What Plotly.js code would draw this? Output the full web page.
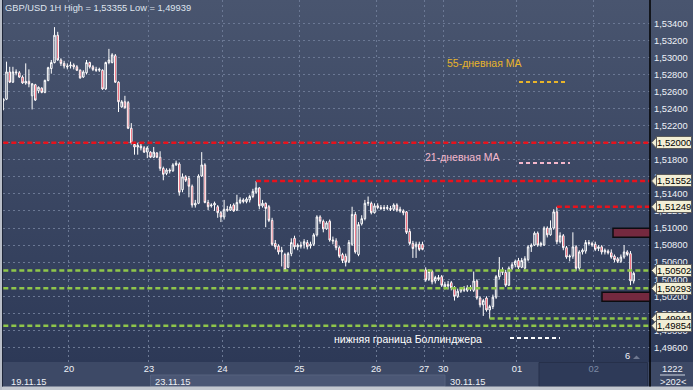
<!DOCTYPE html>
<html><head><meta charset="utf-8">
<script src="https://cdn.plot.ly/plotly-3.0.1.min.js"></script>
<style>
html,body{margin:0;padding:0;background:#3d4966;}
#chart{width:693px;height:390px;background:linear-gradient(to bottom,#49556f 0px,#2d3957 362px,#3d4966 362px,#3d4966 390px);}
</style></head><body><div id="chart"></div>
<script>
// ---- data (GBP/USD 1H candles) ----
const openP = [
1.5249,1.5251,1.5283,1.5271,1.5283,1.5282,1.5277,1.5270,1.5272,1.5255,
1.5268,1.5261,1.5264,1.5259,1.5273,1.5287,1.5294,1.5326,1.5297,1.5293,
1.5290,1.5290,1.5291,1.5289,1.5285,1.5277,1.5282,1.5294,1.5289,1.5286,
1.5285,1.5285,1.5263,1.5294,1.5294,1.5302,1.5271,1.5242,1.5248,1.5247,
1.5217,1.5198,1.5195,1.5196,1.5194,1.5189,1.5189,1.5183,1.5188,1.5183,
1.5170,1.5164,1.5168,1.5167,1.5174,1.5175,1.5145,1.5160,1.5158,1.5149,
1.5127,1.5129,1.5161,1.5174,1.5130,1.5126,1.5127,1.5125,1.5118,1.5113,
1.5122,1.5121,1.5127,1.5121,1.5130,1.5133,1.5131,1.5133,1.5137,1.5142,
1.5147,1.5126,1.5129,1.5125,1.5109,1.5082,1.5079,1.5072,1.5069,1.5054,
1.5070,1.5088,1.5078,1.5080,1.5081,1.5083,1.5079,1.5081,1.5092,1.5113,
1.5108,1.5099,1.5108,1.5086,1.5085,1.5077,1.5069,1.5067,1.5061,1.5081,
1.5116,1.5069,1.5105,1.5111,1.5129,1.5129,1.5118,1.5126,1.5124,1.5124,
1.5123,1.5123,1.5122,1.5127,1.5122,1.5120,1.5119,1.5096,1.5082,1.5078,
1.5081,1.5081,1.5051,1.5040,1.5049,1.5038,1.5042,1.5043,1.5031,1.5034,
1.5036,1.5030,1.5020,1.5026,1.5029,1.5027,1.5030,1.5027,1.5038,1.5018,
1.5010,1.5018,1.5004,1.5008,1.5019,1.5043,1.5051,1.5048,1.5033,1.5053,
1.5057,1.5062,1.5054,1.5053,1.5063,1.5078,1.5080,1.5094,1.5080,1.5080,
1.5100,1.5092,1.5100,1.5119,1.5084,1.5091,1.5077,1.5066,1.5067,1.5078,
1.5053,1.5072,1.5073,1.5083,1.5082,1.5081,1.5076,1.5078,1.5072,1.5073,
1.5071,1.5067,1.5064,1.5061,1.5066,1.5072,1.5070,1.5038];
const highP = [
1.5252,1.5295,1.5289,1.5289,1.5286,1.5284,1.5279,1.5293,1.5286,1.5270,
1.5269,1.5266,1.5265,1.5274,1.5289,1.5297,1.53355,1.5330,1.5299,1.5296,
1.5293,1.5295,1.5293,1.5291,1.5286,1.5285,1.5297,1.5295,1.5291,1.5289,
1.5288,1.5286,1.5295,1.5310,1.5305,1.5304,1.5272,1.5250,1.5255,1.5249,
1.5223,1.5201,1.5200,1.5199,1.5196,1.5196,1.5190,1.5195,1.5189,1.5190,
1.5172,1.5170,1.5170,1.5176,1.5179,1.5177,1.5164,1.5162,1.5161,1.5151,
1.5133,1.5163,1.5189,1.5176,1.5133,1.5129,1.5131,1.5127,1.5120,1.5133,
1.5126,1.5128,1.5129,1.5139,1.5136,1.5135,1.5136,1.5139,1.5146,1.51552,
1.5148,1.5133,1.5130,1.5127,1.5112,1.5086,1.5081,1.5078,1.5071,1.5072,
1.5088,1.5091,1.5082,1.5084,1.5087,1.5086,1.5084,1.5094,1.5115,1.5115,
1.5110,1.5108,1.5110,1.5090,1.5088,1.5079,1.5071,1.5070,1.5086,1.5125,
1.5119,1.5107,1.5115,1.5133,1.5137,1.5131,1.5129,1.5129,1.5127,1.5127,
1.5127,1.5126,1.5129,1.5129,1.5125,1.5122,1.5120,1.5099,1.5085,1.5084,
1.5084,1.5084,1.5054,1.5052,1.5051,1.5044,1.5045,1.5045,1.5037,1.5038,
1.5038,1.5032,1.5029,1.5031,1.5032,1.5033,1.5033,1.5049,1.5040,1.5020,
1.5017,1.5020,1.5010,1.5022,1.5045,1.5066,1.5054,1.5051,1.5055,1.5060,
1.5063,1.5065,1.5065,1.5067,1.5080,1.5082,1.5096,1.5096,1.5084,1.5102,
1.5102,1.5109,1.5122,1.51249,1.5095,1.5093,1.5079,1.5069,1.5095,1.5080,
1.5074,1.5076,1.5086,1.5086,1.5084,1.5084,1.5080,1.5080,1.5076,1.5075,
1.5075,1.5069,1.5066,1.5069,1.5080,1.5074,1.5073,1.5049];
const lowP = [
1.5238,1.5250,1.5270,1.5270,1.5279,1.5276,1.5269,1.5268,1.5265,1.5239,
1.5249,1.5258,1.5258,1.5258,1.5272,1.5281,1.5293,1.5296,1.5290,1.5287,
1.5286,1.5287,1.5286,1.5284,1.5275,1.5276,1.5280,1.5287,1.5284,1.5283,
1.5283,1.5262,1.5262,1.5292,1.5293,1.5270,1.5236,1.5241,1.5240,1.5216,
1.5198,1.5186,1.5186,1.5191,1.5188,1.5182,1.5182,1.5182,1.5182,1.5167,
1.5156,1.5162,1.5164,1.5166,1.5173,1.5138,1.5142,1.5154,1.5136,1.5124,
1.5124,1.5128,1.5160,1.5129,1.5121,1.5124,1.5120,1.5112,1.5107,1.5110,
1.5119,1.5120,1.5119,1.5120,1.5128,1.5129,1.5129,1.5130,1.5135,1.5140,
1.5122,1.5124,1.5101,1.5107,1.5079,1.5075,1.5069,1.5055,1.5049,1.5053,
1.5067,1.5075,1.5074,1.5076,1.5076,1.5075,1.5076,1.5079,1.5090,1.5105,
1.5095,1.5098,1.5084,1.5081,1.5074,1.5065,1.5059,1.5055,1.5059,1.5079,
1.5070,1.5067,1.5103,1.5109,1.5126,1.5116,1.5117,1.5122,1.5121,1.5120,
1.5121,1.5120,1.5120,1.5119,1.5118,1.5115,1.5093,1.5080,1.5065,1.5065,
1.5073,1.5074,1.5037,1.5038,1.5034,1.5035,1.5038,1.5031,1.5028,1.5028,
1.5027,1.5015,1.5018,1.5024,1.5025,1.5025,1.5026,1.5025,1.5016,1.5007,
1.4997,1.5002,1.49939,1.5005,1.5017,1.5040,1.5045,1.5031,1.5032,1.5051,
1.5054,1.5052,1.5053,1.5051,1.5061,1.5072,1.5079,1.5078,1.5078,1.5079,
1.5089,1.5091,1.5098,1.5081,1.5082,1.5074,1.5064,1.5061,1.5064,1.5050,
1.5050,1.5069,1.5070,1.5080,1.5078,1.5073,1.5073,1.5069,1.5069,1.5069,
1.5064,1.5060,1.5059,1.5059,1.5064,1.5067,1.5033,1.5035];
const closeP = [
1.5251,1.5283,1.5271,1.5283,1.5282,1.5277,1.5270,1.5272,1.5269,1.5269,
1.5250,1.5265,1.5259,1.5273,1.5288,1.5294,1.5326,1.5297,1.5293,1.5290,
1.5289,1.5291,1.5289,1.5285,1.5276,1.5283,1.5294,1.5289,1.5286,1.5285,
1.5286,1.5263,1.5294,1.5297,1.5303,1.5271,1.5248,1.5248,1.5241,1.5217,
1.5200,1.5195,1.5197,1.5194,1.5189,1.5194,1.5183,1.5189,1.5183,1.5170,
1.5163,1.5168,1.5167,1.5174,1.5176,1.5142,1.5160,1.5156,1.5149,1.5127,
1.5129,1.5161,1.5174,1.5130,1.5125,1.5127,1.5129,1.5118,1.5113,1.5122,
1.5121,1.5125,1.5120,1.5130,1.5133,1.5131,1.5134,1.5137,1.5143,1.5147,
1.5126,1.5129,1.5123,1.5109,1.5081,1.5078,1.5072,1.5074,1.5051,1.5070,
1.5083,1.5078,1.5080,1.5079,1.5084,1.5078,1.5081,1.5092,1.5113,1.5108,
1.5099,1.5106,1.5086,1.5085,1.5077,1.5067,1.5062,1.5060,1.5083,1.5116,
1.5072,1.5104,1.5111,1.5129,1.5130,1.5118,1.5126,1.5124,1.5123,1.5123,
1.5124,1.5122,1.5127,1.5121,1.5120,1.5118,1.5095,1.5082,1.5076,1.5081,
1.5075,1.5075,1.5039,1.5049,1.5037,1.5042,1.5040,1.5033,1.5034,1.5032,
1.5030,1.5020,1.5026,1.5029,1.5027,1.5030,1.5029,1.5038,1.5018,1.5010,
1.5015,1.5004,1.5008,1.5019,1.5043,1.5051,1.5048,1.5033,1.5053,1.5057,
1.5061,1.5054,1.5062,1.5064,1.5078,1.5080,1.5094,1.5080,1.5082,1.5100,
1.5092,1.5100,1.5119,1.5084,1.5091,1.5077,1.5066,1.5067,1.5078,1.5053,
1.5072,1.5074,1.5083,1.5082,1.5080,1.5075,1.5078,1.5072,1.5074,1.5071,
1.5066,1.5063,1.5061,1.5066,1.5072,1.5069,1.5038,1.5047];

const dayLabels   = ['20','23','24','25','26','27','30','01','02'];
const dayFirstBar = [21, 46, 69, 93, 117, 132, 138, 161, 185];
const dateLabels  = ['19.11.15','23.11.15','30.11.15'];
const levels       = [1.52000, 1.51552, 1.51249, 1.50502, 1.50293, 1.49941, 1.49854];
const levelFromBar = [0, 79, 173, 0, 0, 152, 0];
const levelKind    = ['res','res','res','sup','sup','sup','sup'];
const zoneTop    = [1.50998, 1.50247];
const zoneBottom = [1.50892, 1.50142];
const yTicks = [1.496,1.498,1.500,1.502,1.504,1.506,1.508,1.510,1.512,1.514,1.516,1.518,1.520,1.522,1.524,1.526,1.528,1.530,1.532,1.534];
const titleText = 'GBP/USD 1H High = 1,53355 Low = 1,49939';
const legendTexts = ['55-дневная MA','21-дневная MA','нижняя граница Боллинджера'];
const barCountText = ['1222','>202<'];
const markerText = '6';

// ---- helpers: pixel -> paper ----
const W = 693, H = 390, L = 3, R = 650, T = 0, B = 362;
const px = x => (x - L) / (R - L);
const py = y => (B - y) / (B - T);
const XMAX = 202.1;
const fmt = v => v.toFixed(5).replace('.', ',');
const FONT = 'Liberation Sans, Arial, sans-serif';

const bars = openP.map((_, i) => i);
const traces = [{
  type: 'candlestick', x: bars, open: openP, high: highP, low: lowP, close: closeP,
  increasing: {line: {color: '#ffffff', width: 1}, fillcolor: 'rgba(0,0,0,0)'},
  decreasing: {line: {color: '#ffffff', width: 1}, fillcolor: '#e8102a'},
  whiskerwidth: 0, hoverinfo: 'skip', showlegend: false
}];
levels.forEach((lv, k) => {
  traces.push({
    type: 'scatter', mode: 'lines', x: [levelFromBar[k], XMAX], y: [lv, lv],
    line: {color: levelKind[k] === 'res' ? '#e8121c' : '#8fc64a', width: 2.5, dash: '5px,3px'},
    hoverinfo: 'skip', showlegend: false
  });
});

const shapes = [];
const annotations = [];
const P = (x0, y0, x1, y1, fill, line, layer) => shapes.push({type: 'rect', xref: 'paper', yref: 'paper',
  x0: px(x0), x1: px(x1), y0: py(y0), y1: py(y1), fillcolor: fill,
  line: {width: line ? 1 : 0, color: line || 'rgba(0,0,0,0)'}, layer: layer || 'below'});

// bottom band pieces
P(150.5, 375, 445, 386.5, '#4b5775', '#56627f');
P(539, 362.5, 647.5, 386.5, '#2e3a58', '#26304a');
P(0, 386.5, 693, 390, '#c3c8d0');
P(0, 0, 2, 390, '#b9bec8');
P(2, 0, 3, 386.5, '#1e2639');
// separator line plot | axis
shapes.push({type: 'line', xref: 'paper', yref: 'paper', x0: px(650), x1: px(650), y0: py(0), y1: py(386.5),
  line: {color: '#000000', width: 1.5}, layer: 'above'});
// bars count separator
shapes.push({type: 'line', xref: 'paper', yref: 'paper', x0: px(660), x1: px(685), y0: py(375), y1: py(375),
  line: {color: '#cfd5e0', width: 1}, layer: 'above'});

// maroon zones
zoneTop.forEach((t, k) => {
  shapes.push({type: 'rect', xref: 'paper', yref: 'y', x0: px(k === 0 ? 613 : 602), x1: px(650), y0: zoneBottom[k], y1: t,
    fillcolor: '#74293f', line: {color: '#0c0c10', width: 1.5}, layer: 'above'});
});

// legend-like text + dashes
const legendPos = [[484, 63, '#e8b42a', 519, 567, 82], [462, 157, '#f4b8cc', 519, 570, 163], [408, 339, '#ffffff', 510, 560, 338]];
legendTexts.forEach((t, k) => {
  const p = legendPos[k];
  annotations.push({xref: 'paper', yref: 'paper', x: px(p[0]), y: py(p[1]), xanchor: 'center', yanchor: 'middle',
    text: t, showarrow: false, font: {family: FONT, size: 10.5, color: p[2]}});
  shapes.push({type: 'line', xref: 'paper', yref: 'paper', x0: px(p[3]), x1: px(p[4]), y0: py(p[5]), y1: py(p[5]),
    line: {color: p[2], width: 2, dash: '4px,3px'}, layer: 'above'});
});

// price tags on right axis
levels.forEach((lv, k) => {
  const dy = 5.5 * 0.0001172;
  shapes.push({type: 'path', xref: 'paper', yref: 'y',
    path: `M ${px(651.5)},${lv} L ${px(656.5)},${lv + dy} L ${px(656.5)},${lv - dy} Z`,
    fillcolor: '#f2eed5', line: {color: '#5a5a5a', width: 1}, layer: 'above'});
  annotations.push({xref: 'paper', yref: 'y', x: px(655.5), y: lv, xanchor: 'left', yanchor: 'middle',
    text: fmt(lv), showarrow: false, font: {family: FONT, size: 9.5, color: '#000000'},
    bgcolor: '#f2eed5', bordercolor: '#5a5a5a', borderwidth: 1, borderpad: 0});
});

// title
annotations.push({xref: 'paper', yref: 'paper', x: px(3), y: py(8), xanchor: 'left', yanchor: 'middle',
  text: titleText, showarrow: false, font: {family: FONT, size: 9.3, color: '#dfe4ee'}});
// date row
const datePos = [10, 154, 449];
dateLabels.forEach((t, k) => annotations.push({xref: 'paper', yref: 'paper', x: px(datePos[k] - 1), y: py(381.5),
  xanchor: 'left', yanchor: 'middle', text: t, showarrow: false, font: {family: FONT, size: 9.3, color: '#eef1f7'}}));
// bars count
annotations.push({xref: 'paper', yref: 'paper', x: px(672.5), y: py(369), xanchor: 'center', yanchor: 'middle',
  text: barCountText[0], showarrow: false, font: {family: FONT, size: 9.3, color: '#eef1f7'}});
annotations.push({xref: 'paper', yref: 'paper', x: px(672.5), y: py(382), xanchor: 'center', yanchor: 'middle',
  text: barCountText[1], showarrow: false, font: {family: FONT, size: 9.3, color: '#eef1f7'}});
// marker
annotations.push({xref: 'paper', yref: 'paper', x: px(627.5), y: py(355.5), xanchor: 'center', yanchor: 'middle',
  text: markerText, showarrow: false, font: {family: FONT, size: 9.3, color: '#eef1f7'}});
shapes.push({type: 'path', xref: 'paper', yref: 'paper',
  path: `M ${px(633)},${py(359)} L ${px(640)},${py(359)} L ${px(636.5)},${py(355.5)} Z`,
  fillcolor: '#6f7890', line: {width: 0}, layer: 'above'});

const tickText = dayLabels.map((d, k) => k === dayLabels.length - 1 ? `<span style="color:#7d8aa5">${d}</span>` : d);

const layout = {
  width: W, height: H,
  margin: {l: L, r: W - R, t: T, b: H - B, pad: 0},
  paper_bgcolor: 'rgba(0,0,0,0)', plot_bgcolor: 'rgba(0,0,0,0)',
  separators: ', ', showlegend: false, boxgap: 0.32, dragmode: false,
  font: {family: FONT, size: 9.3, color: '#eef1f7'},
  xaxis: {type: 'linear', range: [-0.1, XMAX], tickvals: dayFirstBar.map(b => b - 0.5), ticktext: tickText,
    showgrid: true, gridcolor: '#6b7894', griddash: '2px,3px', gridwidth: 1, zeroline: false, showline: false,
    ticks: '', ticklabelstandoff: 0, rangeslider: {visible: false}, fixedrange: true,
    tickfont: {family: FONT, size: 9.3, color: '#eef1f7'}},
  yaxis: {side: 'right', range: [1.49430, 1.53673], tickvals: yTicks, ticktext: yTicks.map(fmt),
    showgrid: true, gridcolor: '#6b7894', griddash: '2px,3px', gridwidth: 1, zeroline: false, showline: false,
    ticks: '', ticklabelstandoff: 3, fixedrange: true,
    tickfont: {family: FONT, size: 9.3, color: '#eef1f7'}},
  shapes: shapes, annotations: annotations
};
Plotly.newPlot('chart', traces, layout, {displayModeBar: false, staticPlot: true});
</script></body></html>
